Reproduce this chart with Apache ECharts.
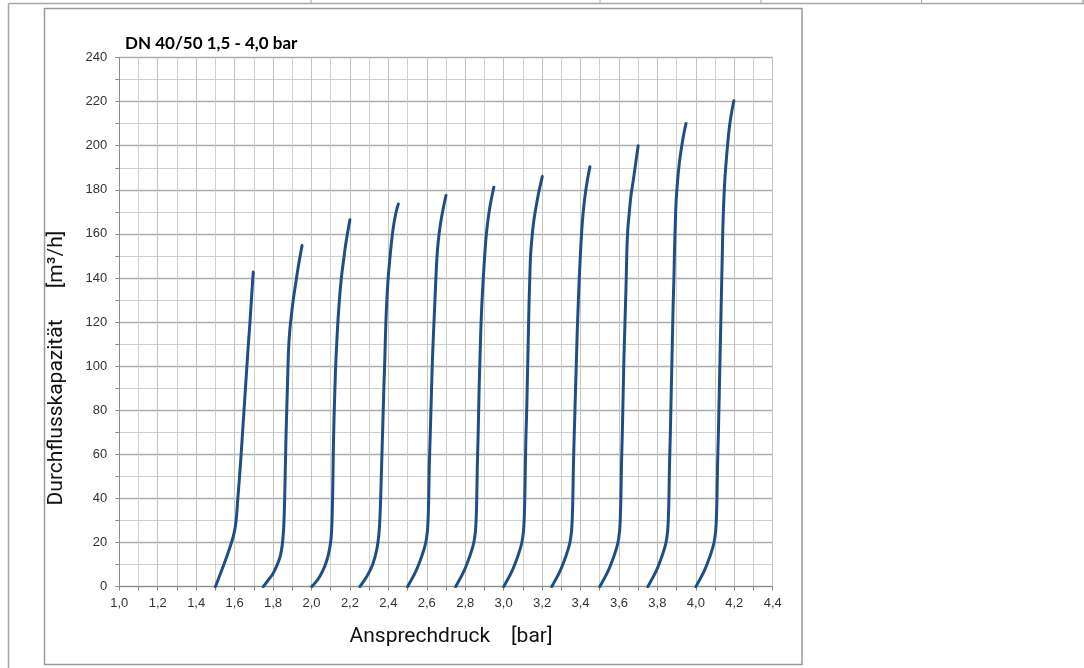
<!DOCTYPE html>
<html>
<head>
<meta charset="utf-8">
<script src="https://cdn.jsdelivr.net/npm/echarts@6/dist/echarts.min.js"></script>
<style>
html,body{margin:0;padding:0;background:#fff;}
#chart{width:1084px;height:668px;}
</style>
</head>
<body>
<div id="chart"></div>
<script>
// Curves: pairs of [Ansprechdruck bar, Durchflusskapazität m³/h]
const curve1  = [[1.500,0],[1.530,6.8],[1.559,13.6],[1.580,19],[1.597,24.2],[1.608,30],[1.615,38],[1.624,48],[1.634,60],[1.643,72],[1.652,84],[1.661,96],[1.670,108],[1.680,120],[1.688,131],[1.697,142.7]];
const curve2  = [[1.749,0],[1.775,3],[1.800,6],[1.822,10],[1.838,14],[1.848,19],[1.855,26],[1.859,35],[1.862,46],[1.865,58],[1.868,70],[1.872,82],[1.876,94],[1.880,106],[1.886,115],[1.894,122],[1.905,130],[1.917,137],[1.931,145],[1.941,150],[1.951,154.7]];
const curve3  = [[2.001,0],[2.035,3.5],[2.061,7.6],[2.080,12],[2.093,16.6],[2.102,22],[2.107,30],[2.110,41],[2.112,52],[2.114,63],[2.117,75],[2.121,87],[2.125,98],[2.130,108],[2.136,118],[2.142,126],[2.149,134],[2.158,142],[2.167,148],[2.176,154],[2.188,160.5],[2.200,166.4]];
const curve4  = [[2.252,0],[2.290,5],[2.318,10],[2.340,17],[2.352,25],[2.358,35],[2.362,46],[2.366,58],[2.370,70],[2.374,82],[2.378,94],[2.382,104],[2.385,114],[2.389,124],[2.394,133],[2.400,141],[2.407,148],[2.416,156],[2.426,163],[2.438,169],[2.452,173.6]];
const curve5  = [[2.500,0],[2.542,6.8],[2.576,14.4],[2.594,19.7],[2.603,25],[2.607,31],[2.610,40],[2.613,55],[2.617,66],[2.621,78],[2.625,90],[2.629,102],[2.634,113],[2.639,123],[2.644,133],[2.649,143],[2.655,152],[2.664,160],[2.677,167.5],[2.689,173],[2.700,177.4]];
const curve6  = [[2.750,0],[2.792,6.8],[2.826,14.4],[2.844,19.7],[2.853,25],[2.857,31],[2.860,40],[2.863,55],[2.867,68],[2.870,80],[2.873,92],[2.877,104],[2.881,116],[2.886,127],[2.892,137],[2.899,147],[2.908,158],[2.918,166],[2.929,172.5],[2.940,177.5],[2.949,181.2]];
const curve7  = [[3.000,0],[3.042,6.8],[3.076,14.4],[3.094,19.7],[3.103,25],[3.107,31],[3.110,40],[3.113,55],[3.116,68],[3.120,80],[3.123,92],[3.126,104],[3.129,116],[3.132,128],[3.136,140],[3.140,150],[3.147,158],[3.157,166],[3.168,172],[3.183,179],[3.201,186]];
const curve8  = [[3.250,0],[3.292,6.8],[3.326,14.4],[3.344,19.7],[3.353,25],[3.357,31],[3.360,40],[3.363,55],[3.367,68],[3.371,80],[3.375,92],[3.379,104],[3.383,116],[3.388,128],[3.393,139],[3.399,150],[3.406,161],[3.414,170],[3.423,177],[3.435,184],[3.449,190.5]];
const curve9  = [[3.500,0],[3.542,6.8],[3.576,14.4],[3.594,19.7],[3.603,25],[3.607,31],[3.610,40],[3.613,55],[3.617,68],[3.620,80],[3.623,92],[3.626,104],[3.630,116],[3.634,128],[3.638,140],[3.641,152],[3.646,162],[3.653,169],[3.662,177],[3.674,184],[3.687,192],[3.700,200]];
const curve10 = [[3.750,0],[3.792,6.8],[3.826,14.4],[3.844,19.7],[3.853,25],[3.857,31],[3.860,40],[3.863,55],[3.867,68],[3.870,80],[3.873,92],[3.876,104],[3.879,116],[3.882,128],[3.886,140],[3.889,152],[3.893,164],[3.897,174],[3.905,184],[3.914,192],[3.926,199.5],[3.938,205.5],[3.949,210.1]];
const curve11 = [[4.000,0],[4.042,6.8],[4.076,14.4],[4.094,19.7],[4.103,25],[4.107,31],[4.110,40],[4.113,55],[4.117,68],[4.120,80],[4.123,92],[4.126,104],[4.129,116],[4.132,128],[4.135,140],[4.138,152],[4.141,164],[4.146,176],[4.152,186],[4.160,195],[4.168,203],[4.177,210],[4.188,216],[4.198,220.4]];
const curves = [curve1,curve2,curve3,curve4,curve5,curve6,curve7,curve8,curve9,curve10,curve11];

const titleText = 'DN 40/50 1,5 - 4,0 bar';
const xName = 'Ansprechdruck    [bar]';
const yName = 'Durchflusskapazität      [m³/h]';
const xMin = 1.0, xMax = 4.4, xStep = 0.2;
const yMin = 0, yMax = 240, yStep = 20;

const chart = echarts.init(document.getElementById('chart'), null, {renderer:'canvas'});
const frameColor = '#a6a6a6';
const option = {
  backgroundColor: '#fff',
  animation: false,
  title: {
    text: titleText, left: 125, top: 35.5, padding: 0,
    textStyle: {fontFamily: 'Lato', fontWeight: 'bold', fontSize: 17, color: '#000'}
  },
  graphic: [
    {type:'line', shape:{x1:8.5,y1:3.5,x2:1084,y2:3.5}, style:{stroke:frameColor,lineWidth:1.5}, silent:true},
    {type:'line', shape:{x1:8.5,y1:3.5,x2:8.5,y2:668}, style:{stroke:frameColor,lineWidth:1.5}, silent:true},
    {type:'line', shape:{x1:1083,y1:0,x2:1083,y2:3.5}, style:{stroke:frameColor,lineWidth:1.5}, silent:true},
    {type:'line', shape:{x1:311,y1:0,x2:311,y2:3.5}, style:{stroke:frameColor,lineWidth:1}, silent:true},
    {type:'line', shape:{x1:600,y1:0,x2:600,y2:3.5}, style:{stroke:frameColor,lineWidth:1}, silent:true},
    {type:'line', shape:{x1:761,y1:0,x2:761,y2:3.5}, style:{stroke:frameColor,lineWidth:1}, silent:true},
    {type:'line', shape:{x1:921.5,y1:0,x2:921.5,y2:3.5}, style:{stroke:frameColor,lineWidth:1}, silent:true},
    {type:'rect', shape:{x:44.5,y:8.5,width:757.5,height:656}, style:{fill:'none',stroke:'#9a9a9a',lineWidth:1.5}, silent:true, z:-1}
  ],
  grid: {left: 119.3, right: 311.3, top: 57.5, bottom: 81.3, containLabel: false},
  xAxis: {
    type: 'value', min: xMin, max: xMax, interval: xStep,
    name: xName, nameLocation: 'middle', nameGap: 40,
    nameTextStyle: {fontFamily: 'Roboto', fontSize: 21, color: '#111', padding: [0, 0, 0, 10]},
    axisLine: {show: true, lineStyle: {color: '#8c8c8c', width: 1}},
    axisTick: {show: true, length: 4, lineStyle: {color: '#8c8c8c'}},
    minorTick: {show: true, splitNumber: 2, length: 4, lineStyle: {color: '#8c8c8c'}},
    axisLabel: {fontFamily: 'Liberation Sans', fontSize: 13, color: '#333', margin: 10,
      formatter: v => v.toFixed(1).replace('.', ',')},
    splitLine: {show: true, lineStyle: {color: '#c4c4c4', width: 1}},
    minorSplitLine: {show: true, lineStyle: {color: '#d0d0d0', width: 1}}
  },
  yAxis: {
    type: 'value', min: yMin, max: yMax, interval: yStep,
    name: yName, nameLocation: 'middle', nameGap: 52, nameRotate: 90,
    nameTextStyle: {fontFamily: 'Roboto', fontSize: 21, color: '#111', padding: [0, 92, 0, 0]},
    axisLine: {show: true, lineStyle: {color: '#8c8c8c', width: 1}},
    axisTick: {show: true, length: 4, lineStyle: {color: '#8c8c8c'}},
    minorTick: {show: true, splitNumber: 2, length: 4, lineStyle: {color: '#8c8c8c'}},
    axisLabel: {fontFamily: 'Liberation Sans', fontSize: 13, color: '#333', margin: 12},
    splitLine: {show: true, lineStyle: {color: '#acacac', width: 1.3}},
    minorSplitLine: {show: true, lineStyle: {color: '#d0d0d0', width: 1}}
  },
  series: curves.map((c, i) => ({
    type: 'line', name: 'K' + (i + 1), data: c, smooth: 0.3, showSymbol: false,
    lineStyle: {color: '#1f4e87', width: 3, cap: 'round'}
  }))
};
chart.setOption(option);
</script>
</body>
</html>
